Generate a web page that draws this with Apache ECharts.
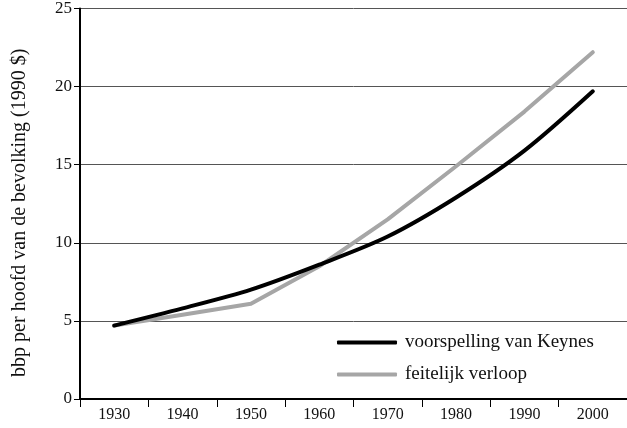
<!DOCTYPE html>
<html>
<head>
<meta charset="utf-8">
<script src="https://cdn.jsdelivr.net/npm/echarts@6/dist/echarts.min.js"></script>
<style>
  html, body { margin: 0; padding: 0; background: #fff; }
  #chart { width: 627px; height: 428px; }
</style>
</head>
<body>
<div id="chart"></div>
<script>
var years = ['1930', '1940', '1950', '1960', '1970', '1980', '1990', '2000'];
var keynes = [4.7, 5.8, 7.0, 8.6, 10.4, 12.9, 15.9, 19.7];
var actual = [4.7, 5.4, 6.1, 8.5, 11.5, 14.9, 18.4, 22.2];
var yTicks = [0, 5, 10, 15, 20, 25];

var serif = 'Liberation Serif';

var myChart = echarts.init(document.getElementById('chart'));
var option = {
    animation: false,
    grid: {
        left: 80,
        right: -3,
        top: 7,
        bottom: 29
    },
    legend: {
        orient: 'vertical',
        left: 332,
        top: 328,
        itemWidth: 60,
        itemHeight: 4,
        itemGap: 13,
        icon: 'roundRect',
        textStyle: {
            fontFamily: serif,
            fontSize: 19,
            color: '#111',
            padding: [0, 0, 0, 3]
        },
        data: ['voorspelling van Keynes', 'feitelijk verloop']
    },
    xAxis: {
        type: 'category',
        data: years,
        boundaryGap: true,
        axisLine: {
            lineStyle: { color: '#000', width: 2 }
        },
        axisTick: {
            show: true,
            length: 8,
            lineStyle: { color: '#000', width: 1 }
        },
        axisLabel: {
            fontFamily: serif,
            fontSize: 16,
            color: '#111',
            margin: 8
        },
        splitLine: { show: false }
    },
    yAxis: {
        type: 'value',
        min: yTicks[0],
        max: yTicks[yTicks.length - 1],
        interval: 5,
        name: 'bbp per hoofd van de bevolking (1990 $)',
        nameLocation: 'middle',
        nameGap: 50,
        nameTextStyle: {
            fontFamily: serif,
            fontSize: 20,
            color: '#111',
            padding: [0, 18, 0, 0]
        },
        axisLine: {
            show: true,
            lineStyle: { color: '#000', width: 2 }
        },
        axisTick: {
            show: true,
            length: 6,
            lineStyle: { color: '#000', width: 1 }
        },
        axisLabel: {
            fontFamily: serif,
            fontSize: 17,
            color: '#111',
            margin: 8
        },
        splitLine: {
            show: true,
            lineStyle: { color: '#555', width: 1 }
        }
    },
    series: [
        {
            name: 'feitelijk verloop',
            type: 'line',
            data: actual,
            symbol: 'none',
            smooth: false,
            itemStyle: { color: '#a6a6a6' },
            lineStyle: { color: '#a6a6a6', width: 4, cap: 'round', join: 'round' },
            z: 2
        },
        {
            name: 'voorspelling van Keynes',
            type: 'line',
            data: keynes,
            symbol: 'none',
            smooth: 0.3,
            itemStyle: { color: '#000' },
            lineStyle: { color: '#000', width: 4, cap: 'round', join: 'round' },
            z: 3
        }
    ]
};
myChart.setOption(option);
</script>
</body>
</html>
